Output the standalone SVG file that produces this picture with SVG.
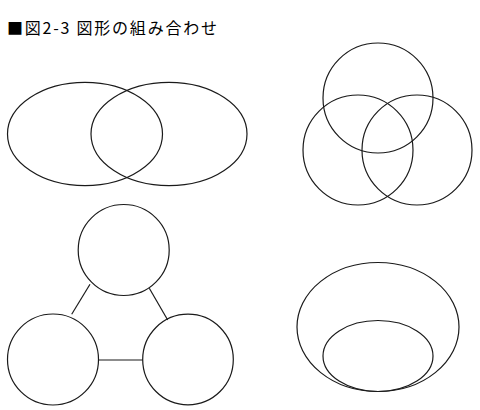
<svg xmlns="http://www.w3.org/2000/svg" width="480" height="410" viewBox="0 0 480 410">
<style>
.s{fill:none;stroke:#1a1a1a;stroke-width:1.2}
.t{font-family:"Noto Sans CJK JP","Noto Sans",sans-serif;font-size:16px;fill:#000}
</style>
<rect width="480" height="410" fill="#fff"/>
<text class="t" x="7" y="34" textLength="210" lengthAdjust="spacing">■図2-3 図形の組み合わせ</text>
<g id="venn-left"><ellipse class="s" cx="85" cy="134" rx="77.5" ry="51.7"/></g>
<g id="venn-right"><ellipse class="s" cx="169" cy="134" rx="78" ry="51.7"/></g>
<g id="circle-top"><circle class="s" cx="378" cy="98" r="55"/></g>
<g id="circle-bl"><circle class="s" cx="358" cy="150" r="55"/></g>
<g id="circle-br"><circle class="s" cx="417" cy="150" r="55"/></g>
<g id="node-top"><circle class="s" cx="123.7" cy="250" r="45.5"/></g>
<g id="node-left"><circle class="s" cx="53" cy="359.5" r="45.5"/></g>
<g id="node-right"><circle class="s" cx="188" cy="359.5" r="45.3"/></g>
<g id="connectors">
<line class="s" x1="90" y1="284.3" x2="71.7" y2="314.3"/>
<line class="s" x1="149.3" y1="288.3" x2="167.7" y2="320"/>
<line class="s" x1="98.5" y1="360" x2="142.7" y2="360"/>
</g>
<g id="outer-ellipse"><ellipse class="s" cx="378" cy="327" rx="81" ry="64.5"/></g>
<g id="inner-ellipse"><ellipse class="s" cx="378" cy="356" rx="55" ry="35.5"/></g>
</svg>
